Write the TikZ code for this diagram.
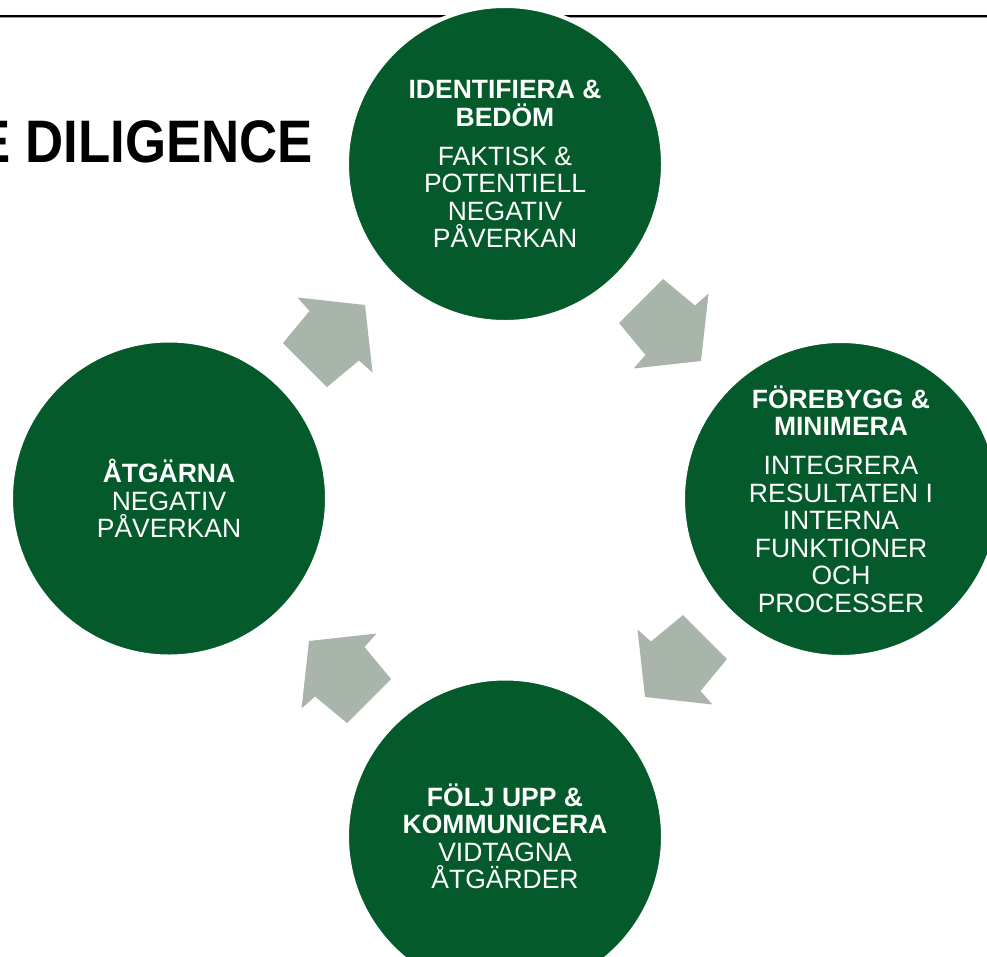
\documentclass[tikz,border=0pt]{standalone}
\usepackage{fontspec}
\setmainfont{Liberation Sans}
\definecolor{dg}{HTML}{045A2B}
\definecolor{ag}{HTML}{A9B4AA}
\definecolor{lineshade}{HTML}{9A9A9A}
\begin{document}
\begin{tikzpicture}[x=1pt,y=-1pt,
  circ/.style={circle, fill=dg, draw=white, line width=4pt, minimum size=316pt, inner sep=0pt,
    text=white, align=center, font=\fontsize{26.5}{27.5}\selectfont},
  blockarrow/.style={fill=ag}]
\useasboundingbox (0,0) rectangle (987,956);
\begin{scope}
\clip (0,0) rectangle (987,956);
\node[anchor=base east, inner sep=0pt, font=\bfseries\fontsize{60}{60}\selectfont] (title) at (313,162) {\scalebox{0.88}[1]{E DILIGENCE}};
\draw[line width=2pt] (0,15.5) -- (987,15.5);
\draw[lineshade, line width=1pt] (0,17.2) -- (987,17.2);
\node[circ] (ident) at (505,164) {\textbf{IDENTIFIERA \&}\\\textbf{BEDÖM}\\[11.5pt]FAKTISK \&\\POTENTIELL\\NEGATIV\\PÅVERKAN};
\node[circ] (prev) at (841,499) {\textbf{FÖREBYGG \&}\\\textbf{MINIMERA}\\[11.5pt]INTEGRERA\\RESULTATEN I\\INTERNA\\FUNKTIONER\\OCH\\PROCESSER};
\node[circ] (follow) at (505,836.5) {\textbf{FÖLJ UPP \&}\\\textbf{KOMMUNICERA}\\VIDTAGNA\\ÅTGÄRDER};
\node[circ] (remedy) at (169,498.5) {\textbf{ÅTGÄRNA}\\NEGATIV\\PÅVERKAN};
\foreach \r in {0,-90,-180,-270} {
  \fill[blockarrow, shift={(505,501)}, rotate=\r] (114,-178) -- (158,-222) -- (190,-195.5) -- (203.5,-207.5) -- (196,-140) -- (128.5,-132.5) -- (140.5,-146) -- cycle;
}
\end{scope}
\end{tikzpicture}
\end{document}
